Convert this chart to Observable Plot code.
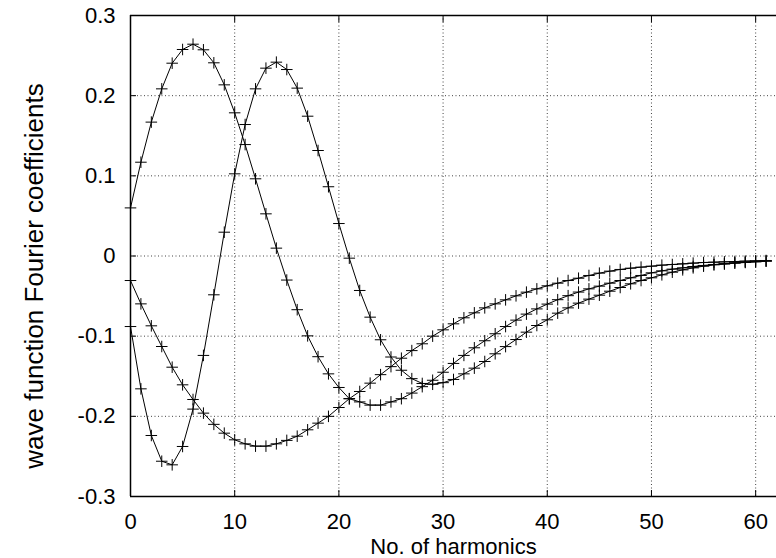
<!DOCTYPE html>
<html><head><meta charset="utf-8">
<script src="https://cdn.jsdelivr.net/npm/d3@7"></script>
<script src="https://cdn.jsdelivr.net/npm/@observablehq/plot@0.6"></script>
<style>
body{margin:0;background:#fff}
#chart svg{font-family:"Liberation Sans",Arial,Helvetica,sans-serif;background:#fff}
</style>
</head><body><div id="chart"></div>
<script>
// Fourier coefficients per harmonic index (0..61)
const seriesA = [0.060,0.117,0.167,0.2085,0.2405,0.2576,0.2642,0.2572,0.241,0.2135,0.1786,0.139,0.0963,0.0526,0.0098,-0.030,-0.067,-0.0996,-0.1256,-0.147,-0.164,-0.178,-0.182,-0.186,-0.186,-0.182,-0.178,-0.171,-0.163,-0.155,-0.145,-0.134,-0.124,-0.1145,-0.1057,-0.097,-0.088,-0.080,-0.0725,-0.066,-0.060,-0.0545,-0.0495,-0.045,-0.041,-0.0376,-0.0339,-0.0306,-0.0272,-0.0243,-0.021,-0.0185,-0.0164,-0.0148,-0.0131,-0.0118,-0.0106,-0.0098,-0.0089,-0.0081,-0.0073,-0.0064];
const seriesB = [-0.088,-0.1657,-0.2239,-0.256,-0.2605,-0.2376,-0.191,-0.124,-0.0484,0.0297,0.1025,0.164,0.2085,0.2343,0.2418,0.2326,0.2094,0.1744,0.1316,0.0864,0.0405,-0.0027,-0.043,-0.0763,-0.1045,-0.126,-0.1425,-0.153,-0.159,-0.160,-0.158,-0.154,-0.147,-0.1399,-0.1316,-0.122,-0.113,-0.1042,-0.095,-0.0867,-0.0796,-0.0713,-0.0647,-0.0588,-0.0538,-0.0489,-0.0439,-0.0393,-0.0347,-0.0306,-0.0272,-0.0235,-0.0202,-0.0173,-0.0148,-0.0127,-0.011,-0.0098,-0.0085,-0.0077,-0.0069,-0.0064];
const seriesC = [-0.0306,-0.0597,-0.0871,-0.1129,-0.1387,-0.1607,-0.179,-0.196,-0.210,-0.221,-0.2293,-0.2343,-0.2372,-0.2372,-0.2343,-0.230,-0.2248,-0.2168,-0.2085,-0.200,-0.189,-0.178,-0.169,-0.1586,-0.148,-0.138,-0.1275,-0.118,-0.1095,-0.100,-0.0921,-0.0846,-0.0771,-0.0709,-0.0647,-0.0597,-0.0547,-0.0497,-0.0451,-0.041,-0.0372,-0.0339,-0.0306,-0.0277,-0.0243,-0.0214,-0.0189,-0.0168,-0.0152,-0.0139,-0.0127,-0.0114,-0.0106,-0.0098,-0.0089,-0.0081,-0.0077,-0.0073,-0.0069,-0.0064,-0.006,-0.0056];
const seriesNames = ["A","B","C"];
const xTicks = [0,10,20,30,40,50,60];
const yTicks = [-0.3,-0.2,-0.1,0,0.1,0.2,0.3];
const xLabel = "No. of harmonics";
const yLabel = "wave function Fourier coefficients";

const table = [seriesA, seriesB, seriesC].flatMap((vals, k) =>
  vals.map((v, i) => ({n: i, v, s: seriesNames[k]})));

const fmt = d => String(Math.round(d * 10) / 10);
const FS = 22;
const blank = () => "";

const chart = Plot.plot({
  width: 776,
  height: 558,
  marginLeft: 130,
  marginRight: 0,
  marginTop: 15,
  marginBottom: 62,
  style: {fontSize: FS + "px", color: "#000", background: "#fff"},
  x: {domain: [0, 62], ticks: xTicks, label: null},
  y: {domain: [-0.3, 0.3], ticks: yTicks, label: null},
  marks: [
    Plot.gridX(xTicks.filter(t => t > 0), {stroke: "#444", strokeOpacity: 1, strokeWidth: 1, strokeDasharray: "1,2.5"}),
    Plot.gridY(yTicks.filter(t => t > -0.3 && t < 0.3), {stroke: "#444", strokeOpacity: 1, strokeWidth: 1, strokeDasharray: "1,2.5"}),
    Plot.ruleX([0], {stroke: "#000", strokeWidth: 1.5}),
    Plot.ruleY([-0.3, 0.3], {stroke: "#000", strokeWidth: 1.5}),
    Plot.axisX(xTicks, {anchor: "bottom", tickSize: -6, tickFormat: blank, label: null, stroke: "#000"}),
    Plot.axisX(xTicks, {anchor: "top", tickSize: -6, tickFormat: blank, label: null, stroke: "#000"}),
    Plot.axisY(yTicks, {anchor: "left", tickSize: -6, tickFormat: blank, label: null, stroke: "#000"}),
    Plot.axisX(xTicks, {anchor: "bottom", tickSize: 0, tickPadding: 17, tickFormat: fmt, label: null, fontSize: FS}),
    Plot.axisY(yTicks, {anchor: "left", tickSize: 0, tickPadding: 15, tickFormat: fmt, label: null, fontSize: FS}),
    Plot.line(table, {x: "n", y: "v", z: "s", stroke: "#000", strokeWidth: 1}),
    Plot.dot(table, {x: "n", y: "v", symbol: "plus", r: 3.8, stroke: "#000", strokeWidth: 1}),
    Plot.text([yLabel], {frameAnchor: "left", dx: -88, dy: 20, rotate: -90, textAnchor: "middle", lineAnchor: "bottom", fontSize: 26, fill: "#000"}),
    Plot.text([xLabel], {frameAnchor: "bottom", dy: 57, textAnchor: "middle", lineAnchor: "bottom", fontSize: FS, fill: "#000"})
  ]
});
document.getElementById("chart").append(chart);
</script>
</body></html>
